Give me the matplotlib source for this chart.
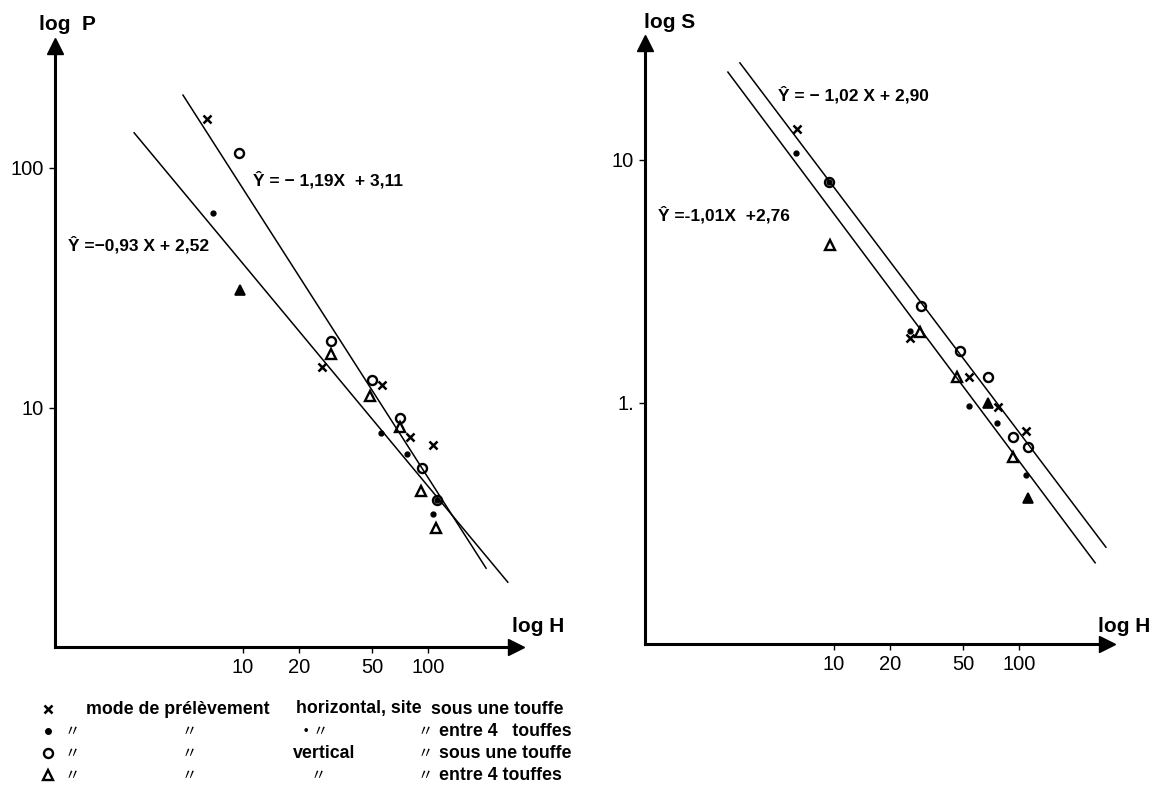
import matplotlib
matplotlib.use("Agg")
import matplotlib.pyplot as plt
from matplotlib.ticker import FixedLocator, FixedFormatter, NullLocator
from matplotlib.lines import Line2D

plt.rcParams['font.family'] = ['Liberation Sans', 'DejaVu Sans']

# ---------------- data ----------------
# Left panel: log P vs log H
P_x_H = [6.4, 26.7, 56.4, 80, 106]
P_x_V = [160, 14.8, 12.5, 7.6, 7.0]
P_dot_H = [6.9, 55.7, 76.9, 106, 112]
P_dot_V = [65, 7.9, 6.4, 3.6, 4.14]
P_o_H = [9.5, 29.9, 49.8, 70.6, 93, 112]
P_o_V = [115, 19.0, 13.1, 9.1, 5.6, 4.14]
P_tri_H = [9.6, 29.9, 48.5, 70.6, 91.7, 110]
P_tri_V = [31, 16.8, 11.2, 8.3, 4.5, 3.16]
P_tri_filled = [True, False, False, False, False, False]
P_line1_H = [4.74, 206]
P_line1_V = [201, 2.15]
P_line2_H = [2.58, 270]
P_line2_V = [140, 1.88]

# Right panel: log S vs log H
S_x_H = [6.3, 25.8, 53.7, 77, 109]
S_x_V = [13.4, 1.85, 1.28, 0.96, 0.767]
S_dot_H = [6.24, 9.4, 25.8, 53.7, 76, 109]
S_dot_V = [10.7, 8.1, 1.98, 0.97, 0.83, 0.506]
S_o_H = [9.4, 29.5, 48, 68, 93, 112]
S_o_V = [8.1, 2.51, 1.64, 1.28, 0.724, 0.66]
S_tri_H = [9.5, 29.2, 46.3, 68, 93, 112]
S_tri_V = [4.47, 1.96, 1.28, 1.0, 0.6, 0.406]
S_tri_filled = [False, False, False, True, False, True]
S_line1_H = [3.1, 295]
S_line1_V = [25.1, 0.255]
S_line2_H = [2.67, 258]
S_line2_V = [23.0, 0.22]

x_ticks = [10, 20, 50, 100]
x_tick_labels = ["10", "20", "50", "100"]
P_ticks = [10, 100]
P_tick_labels = ["10", "100"]
S_ticks = [1, 10]
S_tick_labels = ["1.", "10"]

eq_P1 = "Ŷ = − 1,19X  + 3,11"
eq_P2 = "Ŷ =−0,93 X + 2,52"
eq_S1 = "Ŷ = − 1,02 X + 2,90"
eq_S2 = "Ŷ =-1,01X  +2,76"

# ---------------- figure ----------------
W, H = 1153, 806
fig = plt.figure(figsize=(W / 100, H / 100), dpi=100)


def fx(px):
    return px / W


def fy(py):
    return 1 - py / H


axL = fig.add_axes([0.04770, 0.19727, 0.39983, 0.74566])
axR = fig.add_axes([0.55941, 0.20099, 0.40069, 0.74566])


def style_axis(ax, xlim, ylim, yt, ytl):
    ax.set_xscale('log')
    ax.set_yscale('log')
    ax.set_xlim(*xlim)
    ax.set_ylim(*ylim)
    for s in ('top', 'right'):
        ax.spines[s].set_visible(False)
    for s in ('left', 'bottom'):
        ax.spines[s].set_linewidth(2.2)
    ax.xaxis.set_major_locator(FixedLocator(x_ticks))
    ax.xaxis.set_major_formatter(FixedFormatter(x_tick_labels))
    ax.yaxis.set_major_locator(FixedLocator(yt))
    ax.yaxis.set_major_formatter(FixedFormatter(ytl))
    ax.xaxis.set_minor_locator(NullLocator())
    ax.yaxis.set_minor_locator(NullLocator())
    ax.tick_params(axis='both', length=4, width=1, labelsize=14.5, pad=4)
    ax.plot(1, 0, marker='>', ms=11, color='k', transform=ax.transAxes, clip_on=False)
    ax.plot(0, 1, marker='^', ms=11, color='k', transform=ax.transAxes, clip_on=False)
    ax.patch.set_alpha(0)


style_axis(axL, (0.9634, 299), (1.0096, 322), P_ticks, P_tick_labels)
style_axis(axR, (0.9515, 299), (0.1019, 30.3), S_ticks, S_tick_labels)


def draw_points(ax, xs, dots, os_, tris, tri_filled):
    ax.plot(*xs, linestyle='none', marker='x', ms=6, mew=1.8, color='k', clip_on=False)
    ax.plot(*dots, linestyle='none', marker='o', ms=3.5, color='k', clip_on=False)
    ax.plot(*os_, linestyle='none', marker='o', ms=6.5, mfc='none', mec='k', mew=1.7, clip_on=False)
    th, tv = tris
    op_h = [h for h, f in zip(th, tri_filled) if not f]
    op_v = [v for v, f in zip(tv, tri_filled) if not f]
    fi_h = [h for h, f in zip(th, tri_filled) if f]
    fi_v = [v for v, f in zip(tv, tri_filled) if f]
    ax.plot(op_h, op_v, linestyle='none', marker='^', ms=7, mfc='none', mec='k', mew=1.7, clip_on=False)
    ax.plot(fi_h, fi_v, linestyle='none', marker='^', ms=6.5, mfc='k', mec='k', mew=1.2, clip_on=False)


axL.plot(P_line1_H, P_line1_V, color='k', lw=1.1)
axL.plot(P_line2_H, P_line2_V, color='k', lw=1.1)
draw_points(axL, (P_x_H, P_x_V), (P_dot_H, P_dot_V), (P_o_H, P_o_V),
            (P_tri_H, P_tri_V), P_tri_filled)

axR.plot(S_line1_H, S_line1_V, color='k', lw=1.1)
axR.plot(S_line2_H, S_line2_V, color='k', lw=1.1)
draw_points(axR, (S_x_H, S_x_V), (S_dot_H, S_dot_V), (S_o_H, S_o_V),
            (S_tri_H, S_tri_V), S_tri_filled)

# axis titles
fig.text(fx(67), fy(25), "log  P", ha='center', va='center', fontsize=15, fontweight='bold')
fig.text(fx(670), fy(22), "log S", ha='center', va='center', fontsize=15, fontweight='bold')
fig.text(fx(538), fy(627), "log H", ha='center', va='center', fontsize=15, fontweight='bold')
fig.text(fx(1124), fy(627), "log H", ha='center', va='center', fontsize=15, fontweight='bold')

# equations
eq_kw = dict(ha='left', va='center', fontsize=12.5, fontweight='bold')
fig.text(fx(253), fy(180), eq_P1, **eq_kw)
fig.text(fx(68), fy(245), eq_P2, **eq_kw)
fig.text(fx(778), fy(95), eq_S1, **eq_kw)
fig.text(fx(658), fy(215), eq_S2, **eq_kw)

# legend block
rows_y = [709, 731, 753, 775]
leg_kw = dict(ha='left', va='center', fontsize=12.8, fontweight='bold')
dit_kw = dict(ha='center', va='center', fontsize=11,
              family=['Noto Sans CJK JP', 'DejaVu Sans'])
DIT = "〃"

fig.add_artist(Line2D([fx(48)], [fy(rows_y[0])], marker='x', ms=6, mew=1.8, color='k'))
fig.add_artist(Line2D([fx(48)], [fy(rows_y[1])], marker='o', ms=4, color='k'))
fig.add_artist(Line2D([fx(48)], [fy(rows_y[2])], marker='o', ms=6.5, mfc='none', mec='k', mew=1.7))
fig.add_artist(Line2D([fx(48)], [fy(rows_y[3])], marker='^', ms=7, mfc='none', mec='k', mew=1.7))

fig.text(fx(86), fy(rows_y[0]), "mode de prélèvement", **leg_kw)
fig.text(fx(296), fy(rows_y[0]), "horizontal, site", **leg_kw)
fig.text(fx(431), fy(rows_y[0]), "sous une touffe", **leg_kw)

for r in range(1, 4):
    fig.text(fx(72), fy(rows_y[r]), DIT, **dit_kw)
    fig.text(fx(189), fy(rows_y[r]), DIT, **dit_kw)
    fig.text(fx(425), fy(rows_y[r]), DIT, **dit_kw)

fig.text(fx(306), fy(rows_y[1]), "•", ha='center', va='center', fontsize=9, fontweight='bold')
fig.text(fx(320), fy(rows_y[1]), DIT, **dit_kw)
fig.text(fx(439), fy(rows_y[1]), "entre 4   touffes", **leg_kw)

fig.text(fx(293), fy(rows_y[2]), "vertical", **leg_kw)
fig.text(fx(439), fy(rows_y[2]), "sous une touffe", **leg_kw)

fig.text(fx(318), fy(rows_y[3]), DIT, **dit_kw)
fig.text(fx(439), fy(rows_y[3]), "entre 4 touffes", **leg_kw)

fig.savefig("out.png", dpi=100, facecolor='white')
